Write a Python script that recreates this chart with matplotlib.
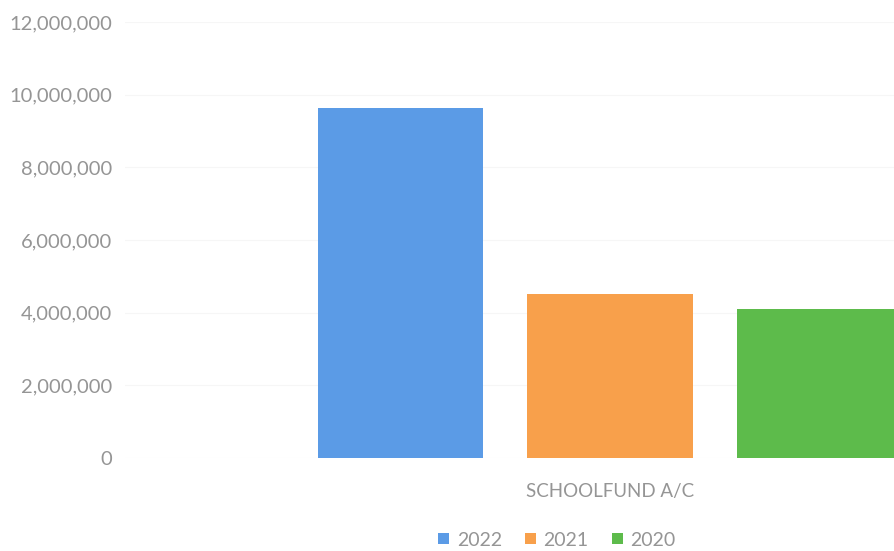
import matplotlib.pyplot as plt
from matplotlib.ticker import FuncFormatter

# data
category = 'SCHOOLFUND A/C'
years = ['2022', '2021', '2020']
values = [9620000, 4510000, 4110000]
colors = ['#5b9be6', '#f8a04b', '#5dbb4b']
yticks = [0, 2000000, 4000000, 6000000, 8000000, 10000000, 12000000]

plt.rcParams['font.family'] = ['Lato', 'DejaVu Sans']

fig = plt.figure(figsize=(8.95, 5.51), dpi=100)
# axes runs past the right edge of the figure, as in the scan
ax = fig.add_axes([125 / 895, (551 - 458) / 551, 970 / 895, 436 / 551])

offsets = [-1, 0, 1]
for off, yr, v, c in zip(offsets, years, values, colors):
    ax.bar(off, v, width=0.786, color=c, label=yr, zorder=2)

ax.set_xlim(-2.31, 2.31)
ax.set_ylim(0, 12000000)
ax.set_yticks(yticks)
ax.yaxis.set_major_formatter(FuncFormatter(lambda v, p: '{:,.0f}'.format(v)))
ax.tick_params(axis='y', length=0, pad=9, labelsize=14.5, labelcolor='#959595')
ax.set_xticks([])
ax.grid(axis='y', color='#f6f6f6', linewidth=0.8, zorder=0)
for s in ax.spines.values():
    s.set_visible(False)

fig.text(610 / 895, 1 - 492 / 551, category, ha='center', va='center',
         fontsize=13.5, color='#959595')

handles, labels = ax.get_legend_handles_labels()
fig.legend(handles, labels, loc='center', bbox_to_anchor=(557 / 895, 1 - 540 / 551),
           ncol=3, frameon=False, fontsize=14, labelcolor='#959595',
           handlelength=0.55, handleheight=0.55, handletextpad=0.4, columnspacing=1.2)

fig.savefig('out.png', dpi=100)
